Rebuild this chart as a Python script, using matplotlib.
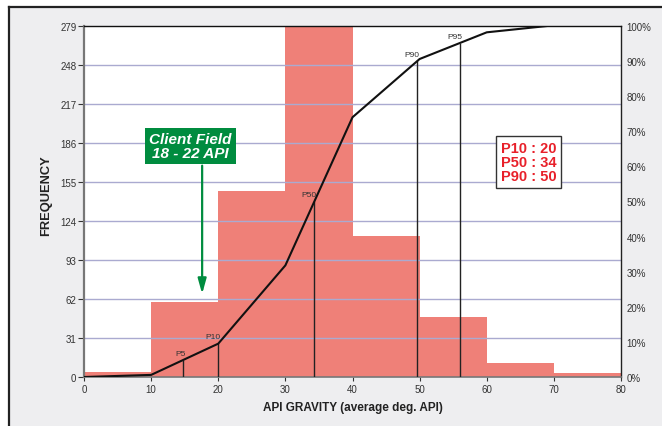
import matplotlib
matplotlib.use("Agg")
import matplotlib.pyplot as plt
from matplotlib.patches import Rectangle
import numpy as np

plt.rcParams['font.family'] = ['Liberation Sans', 'DejaVu Sans']

# Histogram of API gravity (bin edges and counts)
bin_edges = [0, 10, 20, 30, 40, 50, 60, 70, 80]
frequency = [4, 60, 148, 279, 112, 48, 11, 3]

# Cumulative distribution curve (percent)
cdf_x = [0, 10, 20, 30, 40, 50, 60, 69]
cdf_pct = [0, 0.6, 9.5, 31.8, 74.0, 90.6, 98.2, 100]

# Percentile markers: label, API value, cumulative percent
pct_labels = ["P5", "P10", "P50", "P90", "P95"]
pct_api = [14.8, 20.0, 34.3, 49.6, 56.0]
pct_level = [4.7, 9.5, 50.0, 90.0, 95.0]

freq_ticks = [0, 31, 62, 93, 124, 155, 186, 217, 248, 279]
x_ticks = [0, 10, 20, 30, 40, 50, 60, 70, 80]
pct_ticks = [0, 10, 20, 30, 40, 50, 60, 70, 80, 90, 100]

summary_text = "P10 : 20\nP50 : 34\nP90 : 50"
field_text = "Client Field\n18 - 22 API"
field_range = (18, 22)

BAR = '#ef8078'
GRID = '#aaaad0'
GREEN = '#008c3f'
RED = '#e8202a'
BG = '#eeeef0'
TXT = '#333333'

W, H = 662, 427
fig = plt.figure(figsize=(W / 100, H / 100), dpi=100, facecolor='white')

# Gray panel with a black frame along its top and left edges
fig.patches.append(Rectangle((9 / W, 0), 1, 1 - 8 / H, transform=fig.transFigure,
                             facecolor=BG, edgecolor='none', zorder=-10))
fig.add_artist(plt.Line2D([9 / W, 9 / W], [0, 1 - 8 / H], transform=fig.transFigure,
                          color='#222222', lw=1.6))
fig.add_artist(plt.Line2D([9 / W, 1], [1 - 8 / H, 1 - 8 / H], transform=fig.transFigure,
                          color='#222222', lw=1.6))

ax = fig.add_axes([84 / W, (H - 378) / H, (621 - 84) / W, (378 - 27) / H])
ax.set_facecolor('white')
ax.set_xlim(0, 80)
ax.set_ylim(0, 279)

widths = np.diff(bin_edges)
ax.bar(bin_edges[:-1], frequency, width=widths, align='edge', color=BAR,
       edgecolor='none', zorder=1)

for v in freq_ticks[1:-1]:
    ax.axhline(v, color=GRID, lw=1.0, zorder=2)

ax.set_yticks(freq_ticks)
ax.set_xticks(x_ticks)
ax.tick_params(axis='both', labelsize=7, colors=TXT, length=4, width=0.8, pad=2)
ax.tick_params(axis='y', pad=1.5)
ax.tick_params(axis='x', length=3)
for lab in ax.get_xticklabels() + ax.get_yticklabels():
    lab.set_color(TXT)

ax.spines['left'].set_color('#777777')
ax.spines['left'].set_linewidth(1.6)
ax.spines['bottom'].set_color('#777777')
ax.spines['bottom'].set_linewidth(1.2)
ax.spines['top'].set_color('#111111')
ax.spines['top'].set_linewidth(1.0)
ax.spines['right'].set_color('#222222')
ax.spines['right'].set_linewidth(1.0)

ax.set_ylabel("FREQUENCY", fontsize=9.3, fontweight='bold', color='#222222')
ax.yaxis.set_label_coords(-0.0587, 0.521)
ax.set_xlabel("API GRAVITY (average deg. API)", fontsize=8.5, fontweight='bold',
              color='#222222', labelpad=5)

# Cumulative percent on the secondary axis
ax2 = ax.twinx()
ax2.set_ylim(0, 100)
ax2.set_yticks(pct_ticks)
ax2.set_yticklabels([f"{t}%" for t in pct_ticks])
ax2.tick_params(axis='y', length=0, labelsize=7, colors=TXT, pad=4)
for s in ax2.spines.values():
    s.set_visible(False)

ax2.plot(cdf_x, cdf_pct, color='#111111', lw=1.5, zorder=5, solid_joinstyle='miter')
for lab, xv, lv in zip(pct_labels, pct_api, pct_level):
    ax2.plot([xv, xv], [0, lv], color='#222222', lw=1.0, zorder=4)
    ax2.text(xv + 0.3, lv + 2.0, lab, fontsize=6, color='#333333', ha='right', va='center',
             zorder=6)

# Client field call-out
arrow_x = sum(field_range) / 2 - 2.4
ax.annotate('', xy=(arrow_x, 66), xytext=(arrow_x, 168),
            arrowprops=dict(arrowstyle='-|>,head_length=0.9,head_width=0.25',
                            color=GREEN, lw=1.6, shrinkA=0, shrinkB=0), zorder=6)
ax.text(15.8, 183.5, field_text, fontsize=11, fontweight='bold', fontstyle='italic',
        color='white', ha='center', va='center', linespacing=1.0, zorder=7,
        bbox=dict(boxstyle='square,pad=0.28', facecolor=GREEN, edgecolor='none'))

# Percentile summary box
ax.text(66.2, 171, summary_text, fontsize=10.5, fontweight='bold', color=RED,
        ha='center', va='center', linespacing=1.0, zorder=7,
        bbox=dict(boxstyle='square,pad=0.32', facecolor='white', edgecolor='#333333', lw=1.0))

fig.savefig("out.png", dpi=100, facecolor=fig.get_facecolor())
